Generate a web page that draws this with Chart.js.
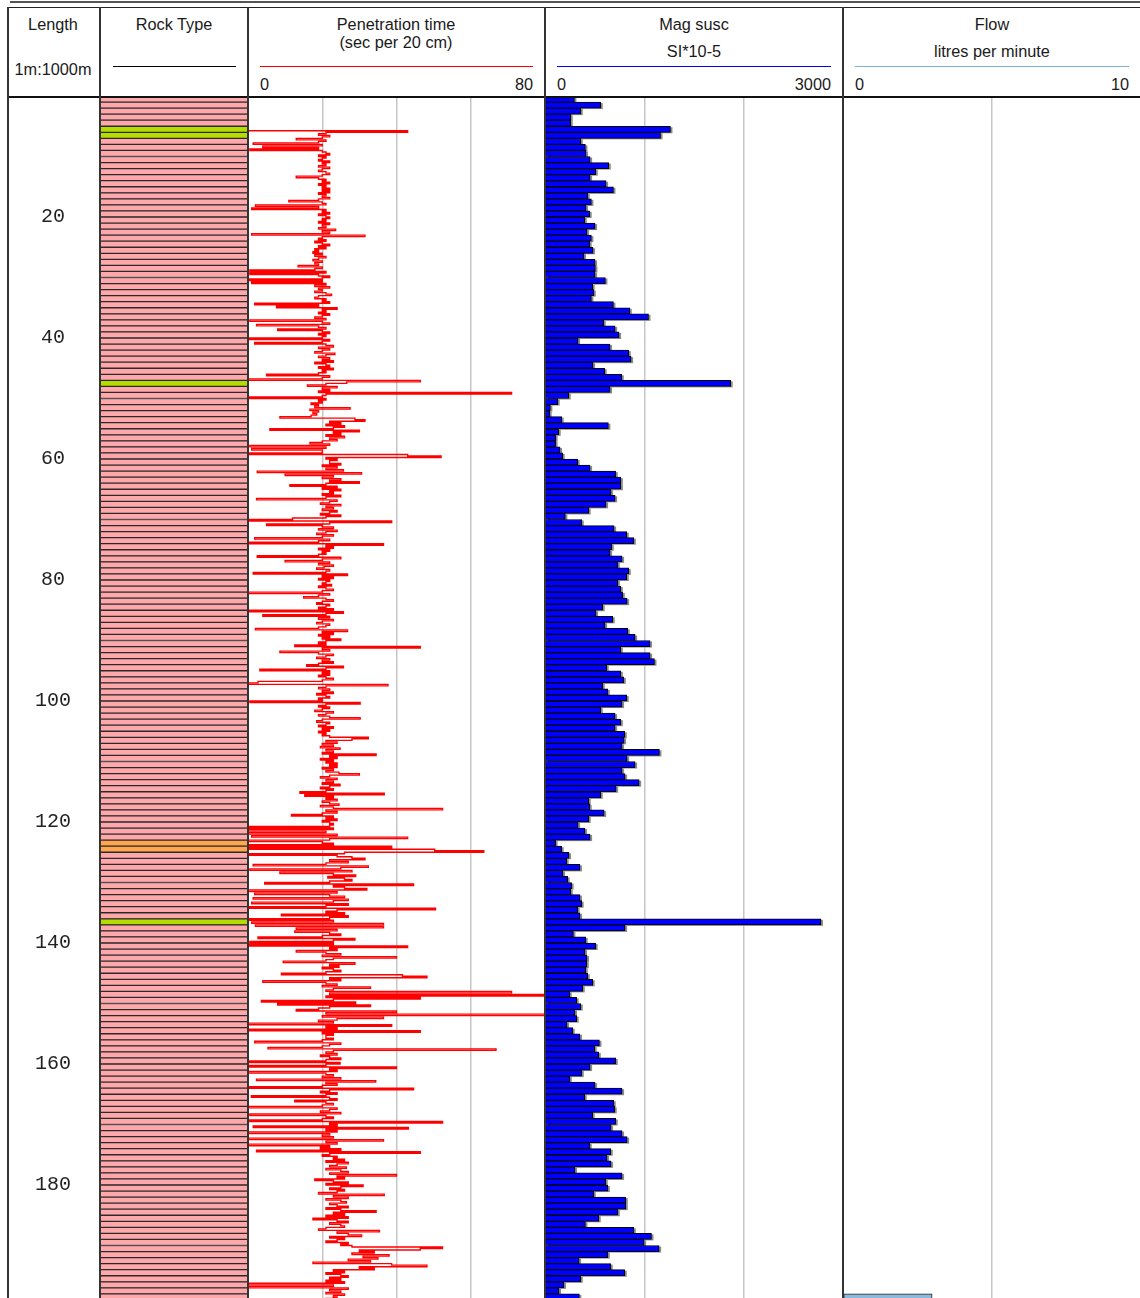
<!DOCTYPE html>
<html>
<head>
<meta charset="utf-8">
<script src="https://cdn.jsdelivr.net/npm/chart.js@4.4.1/dist/chart.umd.min.js"></script>
<style>
  html, body { margin: 0; padding: 0; background: #fff; }
  body { width: 1140px; height: 1298px; position: relative; overflow: hidden;
         font-family: "Liberation Sans", Arial, sans-serif; color: #1a1a1a; }
  .t  { position: absolute; font-size: 16.3px; line-height: 18px; white-space: nowrap; transform: translate(-50%, -50%); }
  .tl { transform: translate(0, -50%); }
  .tr { transform: translate(-100%, -50%); }
  .hl { position: absolute; height: 1px; }
  .vl { position: absolute; top: 7px; width: 2px; height: 1291px; background: #333; z-index: 5; }
  canvas { position: absolute; top: 97px; }
</style>
</head>
<body>

<!-- frame -->
<div style="position:absolute;left:10px;top:1px;width:1130px;height:2px;background:#555"></div>
<div style="position:absolute;left:8px;top:7px;width:1132px;height:1px;background:#222"></div>
<div style="position:absolute;left:8px;top:96px;width:1132px;height:2px;background:#111;z-index:5"></div>
<div class="vl" style="left:7px"></div>
<div class="vl" style="left:99px"></div>
<div class="vl" style="left:247px"></div>
<div class="vl" style="left:544px"></div>
<div class="vl" style="left:842px"></div>

<!-- header -->
<div class="t" style="left:53px;top:24px">Length</div>
<div class="t" style="left:53px;top:69px">1m:1000m</div>

<div class="t" style="left:174px;top:24px">Rock Type</div>
<div class="hl" style="left:113px;top:66px;width:123px;background:#000"></div>

<div class="t" style="left:396px;top:24px">Penetration time</div>
<div class="t" style="left:396px;top:42px">(sec per 20 cm)</div>
<div class="hl" style="left:260px;top:66px;width:273px;background:#ff0000"></div>
<div class="t tl" style="left:260px;top:84px">0</div>
<div class="t tr" style="left:533px;top:84px">80</div>

<div class="t" style="left:694px;top:24px">Mag susc</div>
<div class="t" style="left:694px;top:51px">SI*10-5</div>
<div class="hl" style="left:557px;top:66px;width:274px;background:#0000ff"></div>
<div class="t tl" style="left:557px;top:84px">0</div>
<div class="t tr" style="left:831px;top:84px">3000</div>

<div class="t" style="left:992px;top:24px">Flow</div>
<div class="t" style="left:992px;top:51px">litres per minute</div>
<div class="hl" style="left:855px;top:66px;width:274px;background:#77b5dd"></div>
<div class="t tl" style="left:855px;top:84px">0</div>
<div class="t tr" style="left:1129px;top:84px">10</div>

<!-- tracks -->
<canvas id="lengthTrack" width="92"  height="1201" style="left:8px"></canvas>
<canvas id="rockTrack"   width="148" height="1201" style="left:100px"></canvas>
<canvas id="penTrack"    width="297" height="1201" style="left:248px"></canvas>
<canvas id="magTrack"    width="298" height="1201" style="left:545px"></canvas>
<canvas id="flowTrack"   width="297" height="1201" style="left:843px"></canvas>

<script>
// ── data ─────────────────────────────────────────────────────────────────
const depthTicks = [20, 40, 60, 80, 100, 120, 140, 160, 180];

// rock column, metres from top
const rockTop  = [0, 5, 7, 47, 48, 123, 125, 136, 137];
const rockBase = [5, 7, 47, 48, 123, 125, 136, 137, 199];
const rockKind = ['granite', 'green', 'granite', 'green', 'granite', 'orange', 'granite', 'green', 'granite'];

// magnetic susceptibility, one reading per metre starting at magTop
const magTop = 0;
const magSusc = [
  296, 561, 360, 259, 259, 1263, 1163, 360, 407, 413, 454, 642, 511, 454, 615, 689, 430, 467, 413, 450,
  400, 504, 423, 467, 450, 484, 393, 504, 507, 504, 608, 480, 491, 467, 689, 853, 1042, 591, 706, 746,
  333, 655, 843, 867, 484, 601, 773, 1869, 655, 239, 128, 54, 47, 168, 638, 138, 107, 107, 151, 178,
  329, 454, 712, 763, 763, 665, 706, 615, 440, 205, 370, 696, 823, 894, 672, 655, 776, 733, 843, 823,
  733, 763, 783, 827, 581, 514, 682, 605, 833, 907, 1058, 763, 1058, 1102, 621, 763, 793, 581, 632, 823,
  776, 561, 706, 763, 706, 803, 796, 776, 1152, 827, 907, 776, 806, 948, 716, 561, 440, 450, 595, 440,
  333, 403, 454, 107, 168, 242, 218, 352, 181, 228, 268, 259, 352, 369, 329, 352, 2778, 806, 286, 410,
  510, 403, 423, 420, 410, 430, 480, 380, 249, 319, 360, 302, 319, 222, 279, 352, 548, 500, 541, 712,
  454, 370, 249, 504, 776, 400, 692, 702, 480, 712, 665, 776, 827, 450, 662, 625, 665, 302, 776, 611,
  632, 491, 813, 813, 733, 541, 407, 894, 1072, 998, 1149, 632, 343, 662, 803, 360, 191, 141, 346
];

// penetration time, sampled every penStep metres from penStart
const penStart = 5.75;
const penStep = 0.25;
const penTime = [
  0, 43, 21, 19, 22, 20, 13, 21, 19, 1.4, 20, 4, 19, 0.5, 20, 21, 22, 19, 21, 20,           // 5.75
  19, 22, 20, 21, 19, 22, 20, 19, 21, 22, 20, 13, 19, 21, 20, 22, 19, 21, 20, 22,           // 10.75
  20, 22, 19, 21, 20, 22, 19, 11, 20, 21, 2, 19, 1, 21, 20, 22, 19, 21, 22, 20,             // 15.75
  21, 19, 22, 20, 21, 19, 23.6, 20, 22, 1, 31.5, 20, 19, 21, 18, 20, 22, 19, 21, 18,        // 20.75
  19, 17.5, 20, 18, 21, 19, 17.5, 20, 18, 19, 13.5, 20, 18, 0.5, 21, 0.5, 19, 22, 20, 0,    // 25.75
  20, 1, 21, 18, 22, 19, 20, 18, 21, 22.5, 19, 18, 21, 20, 22, 1.8, 19, 7.7, 24, 20,        // 30.75
  21, 19, 22, 20, 18, 21, 0.5, 20, 22, 2.3, 19, 21, 8, 20, 22, 19, 21, 20, 0, 22,           // 35.75
  20, 1.8, 21, 23, 19, 22, 20, 18, 23.4, 21, 19, 22, 20, 23, 18, 21, 22, 19, 23, 20,        // 40.75
  21, 19, 5, 22, 20, 0, 46.4, 26.6, 21, 16, 24, 20, 22, 19, 71, 21, 20, 0, 21, 19,          // 45.75
  20, 17, 19, 18, 27.5, 16.7, 19, 17.5, 18.5, 17, 8.6, 28.8, 31.5, 22, 25, 21, 26, 23, 5.9, 30, // 50.75
  23, 25, 21, 26, 22, 24, 20, 16.7, 22, 0.5, 21, 1, 20, 20, 0, 43, 52, 21, 24, 22,          // 55.75
  22, 25, 20, 24, 21, 25.7, 2.5, 30.6, 10, 23, 20, 25, 22, 30, 21, 11.3, 24, 20, 25, 22,    // 60.75
  23, 20, 25, 21, 2.3, 24, 22, 19.5, 25, 21, 23, 20, 24, 22, 19.5, 25, 21, 12, 0, 38.7,     // 65.75
  22, 5, 20, 23, 19, 24, 21, 18.5, 23, 20, 1.8, 22, 19, 0, 36.5, 21, 23, 19, 22, 20,        // 70.75
  21, 19, 2.5, 25, 20, 10, 22, 19, 23, 20.5, 18.5, 22, 21, 1.4, 26.8, 20, 23, 19, 22, 21,   // 75.75
  20, 22.5, 19, 21, 23, 20, 0, 22, 19, 15, 21, 23, 20, 18.5, 22, 21, 19, 23, 0, 25.7,       // 80.75
  21, 4, 22, 19, 23, 20, 18.5, 22, 21, 19, 2, 26.8, 20, 23, 19, 22, 20, 25, 21, 19,         // 85.75
  21, 12.6, 46.4, 20, 22, 8.6, 19, 23, 21, 18.5, 22, 20, 23, 19, 15.8, 25.7, 21, 3.2, 22, 20, // 90.75
  22, 19, 21, 23, 20, 2.7, 0, 37.7, 21, 19, 22, 20, 23, 18.5, 21, 22, 19, 20, 0.5, 30.2,    // 95.75
  21, 19, 22, 20, 18, 23, 21, 19, 22, 30.2, 20, 18.5, 22, 21, 19, 23, 20, 22, 19, 21,       // 100.75
  20, 22, 32.4, 28, 21, 24, 20, 23, 19.5, 24.8, 21, 23, 20, 34.5, 22, 24, 19.5, 23, 21, 24, // 105.75
  22, 24, 20, 23, 21, 24.5, 30, 22, 19.5, 24, 21, 23, 20, 24.8, 22, 19.5, 23, 21, 14, 36.7, // 110.75
  15.3, 23, 21, 24, 20, 22, 24.5, 19.5, 23, 52.4, 21, 24, 20, 11.7, 23, 21, 24, 20, 22, 23, // 115.75
  22, 0, 23, 0, 21, 0, 24, 1, 43, 22, 0, 20, 23, 0, 38.7, 0, 50.3, 63.5, 26, 0,             // 120.75
  24, 28, 31.5, 22, 27, 21, 1.4, 32.4, 25, 0.5, 28, 8.6, 23, 29, 21.5, 26, 28, 22, 4.5, 44.6, // 125.75
  23, 26, 32, 0, 24, 1.8, 22, 26, 1.4, 27, 23, 1, 27, 21, 0, 50.5, 24, 21, 26, 9,           // 130.75
  27, 22, 0, 23, 1, 36.5, 2, 36.5, 13, 24, 12.6, 22, 25, 20, 2.7, 28.8, 23, 0.5, 23, 0,     // 135.75
  43, 22, 24, 13, 21, 25, 20, 40, 23, 21, 9.5, 28.8, 22, 24.5, 20, 23, 25, 21, 9, 41.6,     // 140.75
  48.2, 22, 25, 4, 21, 24, 20, 33, 23, 21, 71, 22, 85, 21, 46.4, 23, 3.6, 29, 8, 33,        // 145.75
  22, 19, 13, 40, 21, 85, 20, 36.5, 24, 19, 23, 0, 38.7, 21, 24, 0, 46.4, 20, 23, 21,       // 150.75
  21, 23, 20, 1.8, 25, 22, 20, 5.4, 66.8, 23, 21, 24, 19.5, 22, 25, 21, 0, 24.8, 21, 0,     // 155.75
  40, 22, 24, 0, 21, 23, 20, 25, 2.3, 34.4, 21, 24, 20, 0, 44.6, 22, 19.5, 24, 21, 0.9,     // 160.75
  22, 24, 12.6, 21, 23, 20, 0, 24, 22, 19.5, 25, 0.5, 21, 23, 20, 0, 52.4, 22, 24, 1.4,     // 165.75
  43.2, 21, 24, 0, 22, 20, 23, 0, 36.5, 21, 24, 0, 22, 19.5, 25, 2.3, 46.4, 22, 20, 24,     // 170.75
  23, 26, 21, 27, 24, 22, 26.5, 21, 25, 27, 22, 40, 24, 26, 18, 23, 27, 21, 31, 25,         // 175.75
  22, 26, 24, 19, 36.7, 23, 27, 21, 25, 26.5, 22, 24, 27, 21, 25, 34.5, 23, 26, 21, 27,     // 180.75
  17.5, 24, 27, 22, 25, 26, 21, 19, 35.4, 24, 27, 30.6, 22, 26, 24, 21, 27, 25, 28, 52.4,   // 185.75
  46.4, 30, 34, 28, 38, 31, 35, 27, 33, 17.5, 38.7, 48.2, 30, 34, 23, 26, 21, 25, 27, 22,   // 190.75
  25, 21, 26, 0, 23, 0, 27, 22, 25, 21, 26, 23, 24, 21                                       // 195.75
];

// flow, one reading per metre
const flowDepth = [198];
const flowRate = [3];

// ── scales & helpers ─────────────────────────────────────────────────────
const PX_PER_M = 6.05;
const DEPTH_MIN = 1 / PX_PER_M;                 // canvas top sits 1 px below 0 m
const DEPTH_MAX = DEPTH_MIN + 1201 / PX_PER_M;

const ROCK_COLOURS = { granite: '#ffa8ab', green: '#b4dc00', orange: '#ffa64f' };

const depthAxis = () => ({
  type: 'linear', reverse: true, min: DEPTH_MIN, max: DEPTH_MAX, offset: false, display: false
});

const valueAxis = (max, step) => ({
  type: 'linear', min: 0, max, position: 'top',
  ticks: { display: false, stepSize: step },
  grid: {
    drawTicks: false, lineWidth: 1.5,
    color: ctx => (ctx.tick && ctx.tick.value > 0 && ctx.tick.value < max) ? '#c6c6c6' : 'rgba(0,0,0,0)'
  },
  border: { display: false },
  afterFit: s => { s.height = 0; }
});

const baseOptions = (scales, extra = {}) => ({
  responsive: false, animation: false, devicePixelRatio: 1, events: [],
  layout: { padding: 0 },
  plugins: { legend: { display: false }, tooltip: { enabled: false }, ...(extra.plugins || {}) },
  indexAxis: extra.indexAxis || 'x',
  scales
});

// grey drop shadow behind each bar, placed from the bar elements themselves
const barShadow = {
  id: 'barShadow',
  beforeDatasetDraw(chart, args, opts) {
    if (!opts || !opts.color) return;
    const ctx = chart.ctx;
    ctx.save();
    ctx.fillStyle = opts.color;
    args.meta.data.forEach(bar => {
      const { x, y, base, height } = bar.getProps(['x', 'y', 'base', 'height'], true);
      ctx.fillRect(base + opts.dx, y - height / 2 + opts.dy, x - base, height);
    });
    ctx.restore();
  }
};

// ── Length (depth labels) ────────────────────────────────────────────────
new Chart(document.getElementById('lengthTrack'), {
  type: 'scatter',
  data: { datasets: [] },
  options: baseOptions({
    x: { display: false },
    y: {
      type: 'linear', reverse: true, min: DEPTH_MIN, max: DEPTH_MAX, position: 'left',
      afterBuildTicks: s => { s.ticks = depthTicks.map(v => ({ value: v })); },
      afterFit: s => { s.width = 63; s.paddingTop = 0; s.paddingBottom = 0; },
      grid: { display: false, drawTicks: false },
      border: { display: false },
      ticks: { padding: 0, crossAlign: 'center', color: '#222', font: { family: 'Liberation Mono', size: 20 } }
    }
  })
});

// ── Rock type ────────────────────────────────────────────────────────────
const rockRows = [];
rockTop.forEach((top, i) => {
  for (let d = top; d < rockBase[i]; d++) rockRows.push({ x: 1, y: d + 0.5, kind: rockKind[i] });
});

new Chart(document.getElementById('rockTrack'), {
  type: 'bar',
  data: {
    datasets: [{
      data: rockRows,
      backgroundColor: ctx => ROCK_COLOURS[ctx.raw.kind],
      borderColor: '#2a2a2a',
      borderWidth: { top: 1, bottom: 1, left: 0, right: 0 },
      borderSkipped: false,
      barThickness: PX_PER_M
    }]
  },
  options: baseOptions({ x: { display: false, min: 0, max: 1 }, y: depthAxis() }, { indexAxis: 'y' })
});

// ── Penetration time ─────────────────────────────────────────────────────
new Chart(document.getElementById('penTrack'), {
  type: 'scatter',
  data: {
    datasets: [{
      data: penTime.map((v, i) => ({ x: v, y: penStart + i * penStep })),
      showLine: true,
      stepped: true,
      borderColor: '#ff0000',
      borderWidth: 1.4,
      pointRadius: 0
    }]
  },
  options: baseOptions({ x: valueAxis(80, 20), y: depthAxis() })
});

// ── Mag susc ─────────────────────────────────────────────────────────────
new Chart(document.getElementById('magTrack'), {
  type: 'bar',
  data: {
    datasets: [{
      data: magSusc.map((v, i) => ({ x: v, y: magTop + i + 0.5 })),
      backgroundColor: '#0000ff',
      borderColor: '#000',
      borderWidth: { top: 1, bottom: 1, left: 0, right: 1 },
      borderSkipped: false,
      barThickness: PX_PER_M
    }]
  },
  plugins: [barShadow],
  options: baseOptions({ x: valueAxis(3000, 1000), y: depthAxis() },
    { indexAxis: 'y', plugins: { barShadow: { color: '#8a8a8a', dx: 2, dy: 1 } } })
});

// ── Flow ─────────────────────────────────────────────────────────────────
new Chart(document.getElementById('flowTrack'), {
  type: 'bar',
  data: {
    datasets: [{
      data: flowRate.map((v, i) => ({ x: v, y: flowDepth[i] + 0.5 })),
      backgroundColor: '#8cb9dc',
      borderColor: '#222',
      borderWidth: 1,
      borderSkipped: false,
      barThickness: PX_PER_M
    }]
  },
  options: baseOptions({ x: valueAxis(10, 5), y: depthAxis() }, { indexAxis: 'y' })
});
</script>
</body>
</html>
